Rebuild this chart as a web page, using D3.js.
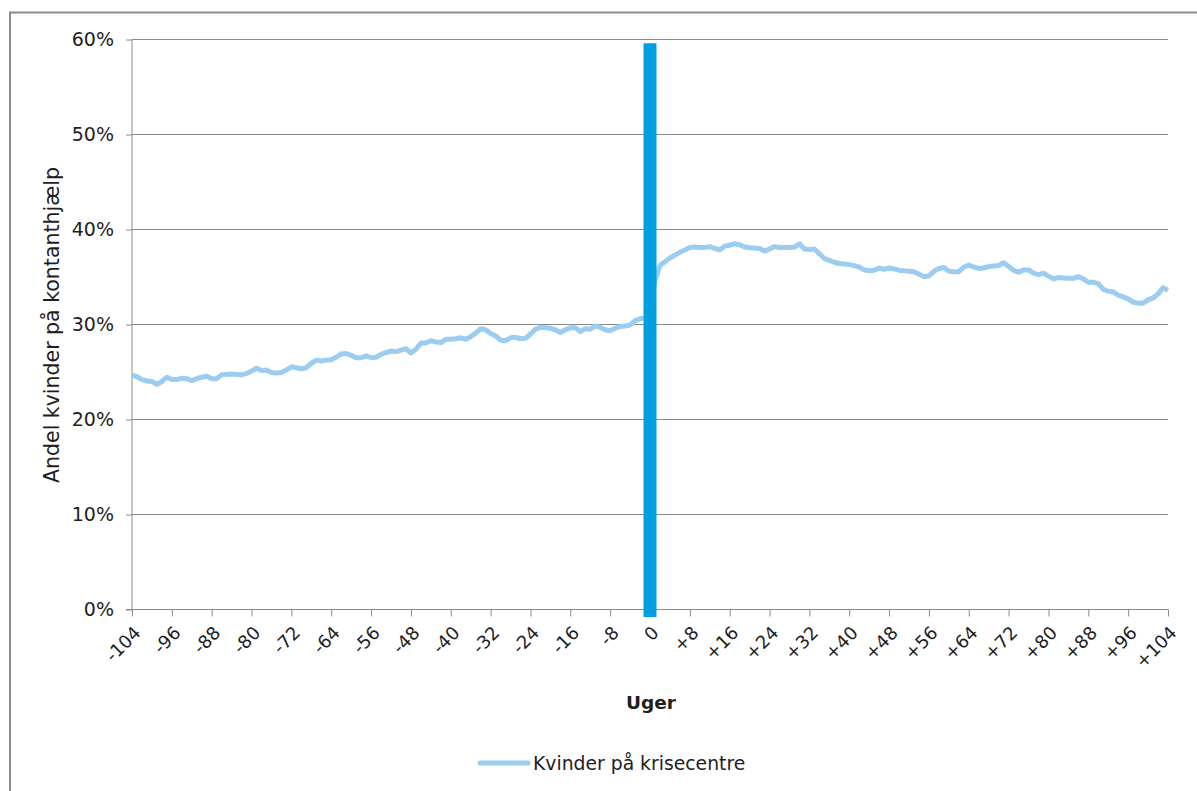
<!DOCTYPE html>
<html>
<head>
<meta charset="utf-8">
<script src="https://cdn.jsdelivr.net/npm/d3@7"></script>
<style>
  html, body { margin: 0; padding: 0; background: #fff; }
  svg { display: block; font-family: "DejaVu Sans", Verdana, sans-serif; }
</style>
</head>
<body>
<svg id="chart" width="1197" height="791"></svg>
<script>
// ---- data ----
const weekStart = -104;
const weekEnd = 104;
const weeks = d3.range(weekStart, weekEnd + 1);
const shareValues = [
  24.7, 24.5, 24.2, 24.05, 24.0, 23.7, 24.0, 24.45, 24.2, 24.2,
  24.35, 24.3, 24.1, 24.3, 24.45, 24.55, 24.3, 24.3, 24.7, 24.75,
  24.8, 24.75, 24.7, 24.85, 25.1, 25.4, 25.15, 25.2, 24.95, 24.9,
  24.95, 25.2, 25.55, 25.45, 25.35, 25.45, 25.9, 26.25, 26.15, 26.25,
  26.3, 26.55, 26.9, 26.95, 26.75, 26.5, 26.5, 26.7, 26.5, 26.55,
  26.85, 27.05, 27.2, 27.15, 27.3, 27.45, 27.0, 27.4, 28.05, 28.05,
  28.3, 28.15, 28.1, 28.44, 28.44, 28.5, 28.6, 28.45, 28.7, 29.1,
  29.55, 29.45, 29.05, 28.8, 28.35, 28.3, 28.6, 28.65, 28.5, 28.55,
  29.0, 29.5, 29.7, 29.67, 29.6, 29.45, 29.15, 29.45, 29.65, 29.67,
  29.25, 29.55, 29.5, 29.85, 29.7, 29.45, 29.35, 29.6, 29.8, 29.85,
  29.95, 30.4, 30.6, 30.7,
  31.5,
  34.6, 36.2, 36.6, 37.0, 37.3, 37.6, 37.84, 38.1, 38.15, 38.1,
  38.1, 38.2, 38.0, 37.85, 38.25, 38.35, 38.5, 38.4, 38.15, 38.08,
  38.05, 38.0, 37.72, 37.95, 38.2, 38.1, 38.1, 38.1, 38.15, 38.5,
  37.95, 37.9, 37.95, 37.45, 36.95, 36.75, 36.55, 36.42, 36.38, 36.3,
  36.2, 36.05, 35.75, 35.65, 35.7, 35.95, 35.8, 35.95, 35.85, 35.72,
  35.65, 35.6, 35.55, 35.3, 35.05, 35.1, 35.6, 35.9, 36.0, 35.6,
  35.56, 35.56, 36.05, 36.25, 36.05, 35.9, 35.95, 36.1, 36.15, 36.2,
  36.5, 36.1, 35.7, 35.5, 35.75, 35.75, 35.4, 35.25, 35.4, 35.1,
  34.8, 34.95, 34.9, 34.86, 34.86, 35.05, 34.8, 34.45, 34.45, 34.3,
  33.7, 33.5, 33.45, 33.1, 32.9, 32.7, 32.35, 32.25, 32.25, 32.6,
  32.8, 33.2, 33.87, 33.6
];
const xTickWeeks = d3.range(-104, 105, 8);
const xTickLabels = xTickWeeks.map(w => w > 0 ? "+" + w : String(w));
const yTicks = [0, 10, 20, 30, 40, 50, 60];
const yTickLabels = yTicks.map(v => v + "%");
const markerWeek = 0;
const markerRange = [-0.8, 59.6];
const seriesName = "Kvinder på krisecentre";
const xTitle = "Uger";
const yTitle = "Andel kvinder på kontanthjælp";

// ---- layout ----
const svg = d3.select("#chart");
const plot = { left: 132, right: 1168, top: 39.5, bottom: 609.5 };
const x = d3.scaleLinear().domain([weekStart, weekEnd]).range([plot.left, plot.right]);
const y = d3.scaleLinear().domain([0, 60]).range([plot.bottom, plot.top]);

const textColor = "#1e1e1e";
const gridColor = "#8a8a8a";
const lineColor = "#9ccdf1";
const markerColor = "#009fdf";
const fontFam = "DejaVu Sans, Verdana, sans-serif";

// outer border
svg.append("rect")
  .attr("x", 10).attr("y", 12.5)
  .attr("width", 1200).attr("height", 800)
  .attr("fill", "none").attr("stroke", "#8c8c8c").attr("stroke-width", 2);

// gridlines
svg.append("g").selectAll("line").data(yTicks.filter(v => v > 0)).join("line")
  .attr("x1", plot.left).attr("x2", plot.right)
  .attr("y1", d => y(d)).attr("y2", d => y(d))
  .attr("stroke", gridColor).attr("stroke-width", 1);

// y axis
const yAxis = d3.axisLeft(y).tickValues(yTicks).tickSize(6).tickPadding(12)
  .tickFormat((d, i) => yTickLabels[i]);
const gy = svg.append("g").attr("transform", `translate(${plot.left},0)`).call(yAxis);
gy.select(".domain").attr("stroke", gridColor).attr("d", `M-6,${plot.bottom}H0V${plot.top}`);
gy.selectAll(".tick line").attr("stroke", gridColor);
gy.selectAll(".tick text").attr("font-size", 19).attr("fill", textColor)
  .attr("font-family", fontFam);

// x axis
const xAxis = d3.axisBottom(x).tickValues(xTickWeeks).tickSize(7)
  .tickFormat((d, i) => xTickLabels[i]);
const gx = svg.append("g").attr("transform", `translate(0,${plot.bottom})`).call(xAxis);
gx.select(".domain").attr("stroke", gridColor).attr("d", `M${plot.left},0H${plot.right}`);
gx.selectAll(".tick line").attr("stroke", gridColor);
gx.selectAll(".tick text")
  .attr("font-size", 18).attr("fill", textColor)
  .attr("font-family", fontFam)
  .attr("text-anchor", "end")
  .attr("dy", "0.35em")
  .attr("transform", "translate(5,20) rotate(-45)")
  .attr("y", 0).attr("x", 0);

// series line
const line = d3.line().x((d, i) => x(weeks[i])).y(d => y(d));
svg.append("path").datum(shareValues)
  .attr("d", line)
  .attr("fill", "none")
  .attr("stroke", lineColor)
  .attr("stroke-width", 5)
  .attr("stroke-linejoin", "round");

// marker bar at week 0
svg.append("line")
  .attr("x1", x(markerWeek)).attr("x2", x(markerWeek))
  .attr("y1", y(markerRange[0])).attr("y2", y(markerRange[1]))
  .attr("stroke", markerColor).attr("stroke-width", 13);

// axis titles
svg.append("text")
  .attr("x", 651).attr("y", 709)
  .attr("text-anchor", "middle").attr("font-size", 18.5).attr("font-weight", "bold")
  .attr("fill", textColor).text(xTitle);
svg.append("text")
  .attr("transform", `translate(59,325) rotate(-90)`)
  .attr("text-anchor", "middle").attr("font-size", 20.5)
  .attr("fill", textColor).text(yTitle);

// legend
const lg = svg.append("g").attr("transform", "translate(480,763)");
lg.append("line").attr("x1", 0).attr("x2", 48).attr("y1", 0).attr("y2", 0)
  .attr("stroke", lineColor).attr("stroke-width", 5).attr("stroke-linecap", "round");
lg.append("text").attr("x", 53).attr("y", 0).attr("dy", "0.35em")
  .attr("font-size", 18.8).attr("fill", textColor).text(seriesName);
</script>
</body>
</html>
